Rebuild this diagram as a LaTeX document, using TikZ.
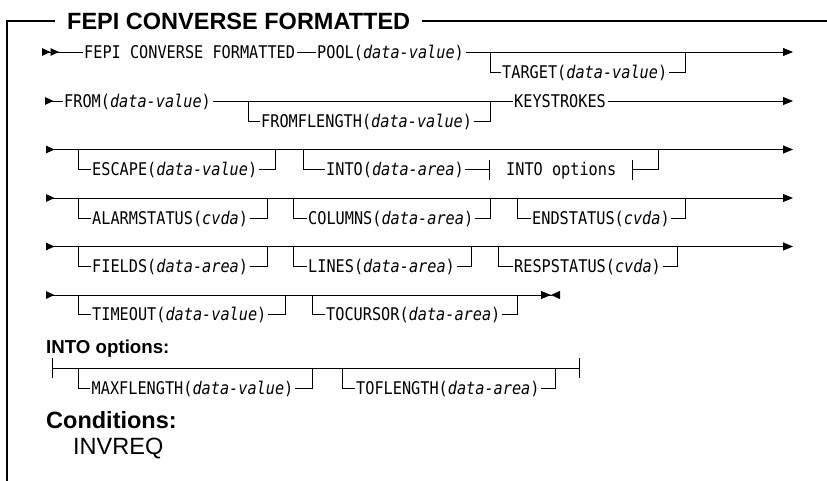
\documentclass[tikz,border=0pt]{standalone}
\usepackage{fontspec}
\setmainfont{Liberation Sans}
\newfontfamily\synmono{DejaVu Sans Mono}[FakeStretch=0.87]
\usetikzlibrary{arrows.meta, positioning}

% railroad tips
\tikzset{
  railend/.tip={Triangle[length=10pt, width=8pt]},
  railbeg/.tip={Triangle[reversed, length=8.5pt, width=7.5pt]},
  railback/.tip={Triangle[reversed, length=9pt, width=8pt]},
  railbar/.tip={Bar[width=20pt]},
}
\tikzset{
  rail/.style={line width=0.9pt},
  frame/.style={line width=1.3pt},
  kw/.style={anchor=west, inner xsep=1.5pt, inner ysep=0pt, text height=12.8pt,
    text depth=0pt, font=\synmono\fontsize{17.5}{20}\selectfont},
  fragref/.style={kw, inner xsep=16pt},
  title/.style={anchor=west, inner xsep=12pt, inner ysep=0pt, text height=16.5pt,
    text depth=0pt, font=\bfseries\fontsize{23.5}{26}\selectfont},
  heading/.style={anchor=west, inner sep=0pt, text height=13.5pt, text depth=0pt,
    font=\bfseries\fontsize{18.7}{22}\selectfont},
}
\newcommand{\var}[1]{{\itshape #1}}

\begin{document}
\begin{tikzpicture}[x=1pt, y=-1pt]
\useasboundingbox (0,0) rectangle (827,480);

% frame and title
\node[title] (ttl) at (55,21) {FEPI CONVERSE FORMATTED};
\coordinate (frtl) at (7,21);
\coordinate (frbl) at (7,482);
\coordinate (frtr) at (830,21);
\draw[frame] (ttl.west) -- (frtl) -- (frbl);
\draw[frame] (ttl.east) -- (frtr);

% row 1
\coordinate (r1s) at (42,52);
\coordinate (r1a) at (490,52);
\coordinate (r1b) at (685,52);
\coordinate (r1e) at (793,52);
\node[kw] (fepi) at (82.5,52) {FEPI CONVERSE FORMATTED};
\node[kw] (pool) at (315.5,52) {POOL(\var{data-value})};
\node[kw] (target) at (500.5,72) {TARGET(\var{data-value})};
\draw[rail, {railbeg[]railbeg[]}-] (r1s) -- (fepi.west);
\draw[rail] (fepi.east) -- (pool.west);
\draw[rail, -railend] (pool.east) -- (r1e);
\draw[rail] (r1a) |- (target.west);
\draw[rail] (target.east) -| (r1b);

% row 2
\coordinate (r2s) at (45,101);
\coordinate (r2a) at (248,101);
\coordinate (r2b) at (490,101);
\coordinate (r2e) at (793,101);
\node[kw] (from) at (62.5,101) {FROM(\var{data-value})};
\node[kw] (fromflength) at (259.5,121) {FROMFLENGTH(\var{data-value})};
\node[kw] (keystrokes) at (512.5,101) {KEYSTROKES};
\draw[rail, railbeg-] (r2s) -- (from.west);
\draw[rail] (from.east) -- (keystrokes.west);
\draw[rail, -railend] (keystrokes.east) -- (r2e);
\draw[rail] (r2a) |- (fromflength.west);
\draw[rail] (fromflength.east) -| (r2b);

% row 3
\coordinate (r3s) at (46,149.5);
\coordinate (r3a) at (78,149.5);
\coordinate (r3b) at (275,149.5);
\coordinate (r3c) at (303,149.5);
\coordinate (r3d) at (658,149.5);
\coordinate (r3e) at (793,149.5);
\node[kw] (escape) at (90.5,169.5) {ESCAPE(\var{data-value})};
\node[kw] (into) at (324.5,169.5) {INTO(\var{data-area})};
\node[fragref] (intoref) at (490,169.5) {INTO options};
\draw[rail, railbeg-railend] (r3s) -- (r3e);
\draw[rail] (r3a) |- (escape.west);
\draw[rail] (escape.east) -| (r3b);
\draw[rail] (r3c) |- (into.west);
\draw[rail, -railbar] (into.east) -- (intoref.west);
\draw[rail, railbar-] (intoref.east) -| (r3d);

% row 4
\coordinate (r4s) at (46,198);
\coordinate (r4a) at (78,198);
\coordinate (r4b) at (267,198);
\coordinate (r4c) at (293,198);
\coordinate (r4d) at (490,198);
\coordinate (r4f) at (517,198);
\coordinate (r4g) at (685,198);
\coordinate (r4e) at (793,198);
\node[kw] (alarmstatus) at (90.5,218) {ALARMSTATUS(\var{cvda})};
\node[kw] (columns) at (306.5,218) {COLUMNS(\var{data-area})};
\node[kw] (endstatus) at (530.5,218) {ENDSTATUS(\var{cvda})};
\draw[rail, railbeg-railend] (r4s) -- (r4e);
\draw[rail] (r4a) |- (alarmstatus.west);
\draw[rail] (alarmstatus.east) -| (r4b);
\draw[rail] (r4c) |- (columns.west);
\draw[rail] (columns.east) -| (r4d);
\draw[rail] (r4f) |- (endstatus.west);
\draw[rail] (endstatus.east) -| (r4g);

% row 5
\coordinate (r5s) at (46,246.5);
\coordinate (r5a) at (78,246.5);
\coordinate (r5b) at (267,246.5);
\coordinate (r5c) at (293,246.5);
\coordinate (r5d) at (471,246.5);
\coordinate (r5f) at (498,246.5);
\coordinate (r5g) at (677,246.5);
\coordinate (r5e) at (793,246.5);
\node[kw] (fields) at (90.5,266.5) {FIELDS(\var{data-area})};
\node[kw] (lines) at (306.5,266.5) {LINES(\var{data-area})};
\node[kw] (respstatus) at (512.5,266.5) {RESPSTATUS(\var{cvda})};
\draw[rail, railbeg-railend] (r5s) -- (r5e);
\draw[rail] (r5a) |- (fields.west);
\draw[rail] (fields.east) -| (r5b);
\draw[rail] (r5c) |- (lines.west);
\draw[rail] (lines.east) -| (r5d);
\draw[rail] (r5f) |- (respstatus.west);
\draw[rail] (respstatus.east) -| (r5g);

% row 6
\coordinate (r6s) at (46,295);
\coordinate (r6a) at (78,295);
\coordinate (r6b) at (285,295);
\coordinate (r6c) at (312,295);
\coordinate (r6d) at (517,295);
\coordinate (r6e) at (560,295);
\node[kw] (timeout) at (90.5,314.5) {TIMEOUT(\var{data-value})};
\node[kw] (tocursor) at (324.5,314.5) {TOCURSOR(\var{data-area})};
\draw[rail, {railbeg[]}-{railend[]railback[]}] (r6s) -- (r6e);
\draw[rail] (r6a) |- (timeout.west);
\draw[rail] (timeout.east) -| (r6b);
\draw[rail] (r6c) |- (tocursor.west);
\draw[rail] (tocursor.east) -| (r6d);

% INTO options fragment
\node[heading] (intohd) at (46,346.5) {INTO options:};
\coordinate (f1s) at (52,368);
\coordinate (f1a) at (78,368);
\coordinate (f1b) at (312,368);
\coordinate (f1c) at (342,368);
\coordinate (f1d) at (555,368);
\coordinate (f1e) at (580,368);
\node[kw] (maxflength) at (90,388) {MAXFLENGTH(\var{data-value})};
\node[kw] (toflength) at (354.5,388) {TOFLENGTH(\var{data-area})};
\draw[rail, railbar-railbar] (f1s) -- (f1e);
\draw[rail] (f1a) |- (maxflength.west);
\draw[rail] (maxflength.east) -| (f1b);
\draw[rail] (f1c) |- (toflength.west);
\draw[rail] (toflength.east) -| (f1d);

% conditions
\node[heading, text height=16.5pt, font=\bfseries\fontsize{23.5}{26}\selectfont]
  (cond) at (46,420) {Conditions:};
\node[heading, text height=16.5pt, font=\fontsize{23.5}{26}\selectfont]
  (invreq) [below=9pt of cond.south west, anchor=north west, xshift=27pt] {INVREQ};
\end{tikzpicture}
\end{document}
